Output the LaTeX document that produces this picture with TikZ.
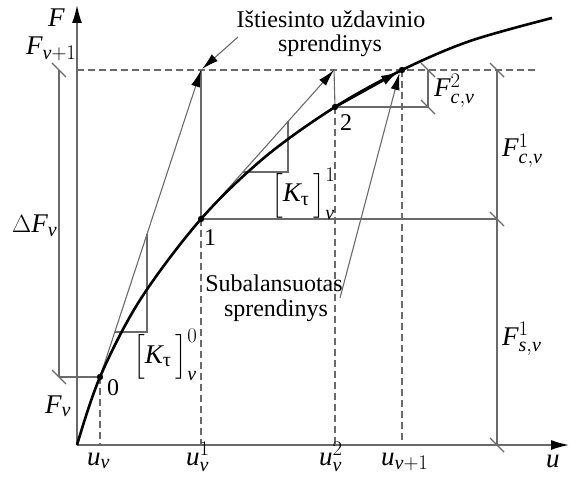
\documentclass[tikz,border=0pt]{standalone}
\usepackage{amsmath}
\usepackage{fontspec}
\setmainfont{Liberation Serif}
\DeclareMathSizes{27}{27}{20}{15}
\usetikzlibrary{arrows.meta}
\definecolor{ln}{HTML}{6A6A6A}
\tikzset{
  lbl/.style={font=\fontsize{24}{28}\selectfont, inner sep=0pt},
  mlbl/.style={font=\fontsize{27}{30}\selectfont, inner sep=0pt, anchor=base west},
  thinln/.style={draw=ln, line width=1.1pt},
  dashln/.style={draw=ln, line width=1.1pt, dash pattern=on 7pt off 4pt},
  axisln/.style={draw=ln, line width=1.6pt, -{Latex[black,length=18pt,width=10pt]}},
  arr/.style={draw=ln, line width=1.1pt, -{Latex[black,length=17pt,width=9pt]}},
  curveln/.style={draw=black, line width=2.6pt},
  tick/.style={draw=ln, line width=1.1pt},
}
\begin{document}
\begin{tikzpicture}[x=1pt,y=-1pt]
\useasboundingbox (0,0) rectangle (570,481);
% key points
\coordinate (O) at (77,445);
\coordinate (P0) at (100,377);
\coordinate (P1) at (201,219);
\coordinate (P2) at (335,107);
\coordinate (P3) at (402,70);
\coordinate (T0) at (201,70);
\coordinate (T1) at (334,70);
\coordinate (Ytop) at (77,5);
\coordinate (Xend) at (569,445);
\coordinate (Hl) at (77,70);
\coordinate (Hr) at (537,70);
\coordinate (B0) at (100,445);
\coordinate (B1) at (201,445);
\coordinate (B2) at (335,445);
\coordinate (B3) at (402,445);
\coordinate (D0t) at (59,70);
\coordinate (D0b) at (59,377);
\coordinate (D1t) at (497,70);
\coordinate (D1m) at (497,219);
\coordinate (D1b) at (497,445);
\coordinate (D2t) at (428,70);
\coordinate (D2b) at (428,107);
% slope triangles
\coordinate (K0a) at (115,332);
\coordinate (K0b) at (147,332);
\coordinate (K0c) at (147,234);
\coordinate (K1a) at (243,172);
\coordinate (K1b) at (288,172);
\coordinate (K1c) at (288,121);

% axes
\draw[axisln] (O) -- (Ytop);
\draw[axisln] (O) -- (Xend);

% dashed lines
\draw[dashln] (Hl) -- (Hr);
\draw[dashln] (P0) -- (B0);
\draw[dashln] (P1) -- (B1);
\draw[dashln] (P2) -- (B2);
\draw[dashln] (P3) -- (B3);

% solid helper lines
\draw[thinln] (D0b) -- (P0);
\draw[thinln] (D0t) -- (D0b);
\draw[thinln] (P1) -- (D1m);
\draw[thinln] (D1t) -- (D1b);
\draw[thinln] (P2) -- (D2b) -- (D2t);
\draw[thinln] (P1) -- (T0);
\draw[thinln] (P2) -- (T1);
\draw[thinln] (K0a) -- (K0b) -- (K0c);
\draw[thinln] (K1a) -- (K1b) -- (K1c);

% ticks
\foreach \c in {D0t,D0b,D1t,D1m,D1b,D2t,D2b}
  \draw[tick] (\c) ++(-7,-7) -- ++(14,14);

% tangent arrows
\draw[arr] (P0) -- (T0);
\draw[arr] (P1) -- (T1);

% curve
\draw[curveln] plot[smooth, tension=0.55] coordinates {(77,445) (100,377) (140,300) (201,219) (265,157) (335,107) (402,70) (470,41) (552,18)};
\draw[line width=2.6pt, -{Latex[black,length=18pt,width=10pt]}] (P2) -- (399,71.5);

% points
\foreach \c in {P0,P1,P2,P3} \fill (\c) circle (3.2pt);

% leaders
\node[lbl] (ist1) at (331,19) {Ištiesinto uždavinio};
\node[lbl] (ist2) at (330,46) {sprendinys};
\coordinate (ista) at (238,37);
\draw[arr] (ista) -- (202,69);
\node[lbl] (sub1) at (274,283) {Subalansuotas};
\node[lbl] (sub2) at (276,311) {sprendinys};
\coordinate (suba) at (340,298);
\draw[arr] (suba) -- (399.5,73);

% labels
\node[mlbl] (lF) at (48,27) {$\mathit{F}$};
\node[mlbl] (lu) at (546,467) {$\mathit{u}$};
\node[mlbl] (lFv1) at (26,55) {$\mathit{F}_{\mathit{v}+1}$};
\node[mlbl] (ldF) at (12,233) {$\Delta\mathit{F}_{\mathit{v}}$};
\node[mlbl] (lFv) at (45,413) {$\mathit{F}_{\mathit{v}}$};
\node[lbl] (l0) at (113,388) {0};
\node[lbl] (l1) at (210,238) {1};
\node[lbl] (l2) at (346,123) {2};
\node[mlbl] (luv) at (87,465) {$\mathit{u}_{\mathit{v}}$};
\node[mlbl] (luv1) at (186,465) {$\mathit{u}_{\mathit{v}}^{1}$};
\node[mlbl] (luv2) at (319,465) {$\mathit{u}_{\mathit{v}}^{2}$};
\node[mlbl] (luv3) at (381,465) {$\mathit{u}_{\mathit{v}+1}$};
\node[mlbl] (lK0) at (133,363) {$\Bigl[\mathit{K}_{\text{τ}}\,\Bigr]_{\mathit{v}}^{0}$};
\node[mlbl] (lK1) at (271,202) {$\Bigl[\mathit{K}_{\text{τ}}\,\Bigr]_{\mathit{v}}^{1}$};
\node[mlbl] (lF2) at (434,97) {$\mathit{F}_{\mathit{c},\mathit{v}}^{2}$};
\node[mlbl] (lFc1) at (502,157) {$\mathit{F}_{\mathit{c},\mathit{v}}^{1}$};
\node[mlbl] (lFs1) at (502,345) {$\mathit{F}_{\mathit{s},\mathit{v}}^{1}$};
\end{tikzpicture}
\end{document}
